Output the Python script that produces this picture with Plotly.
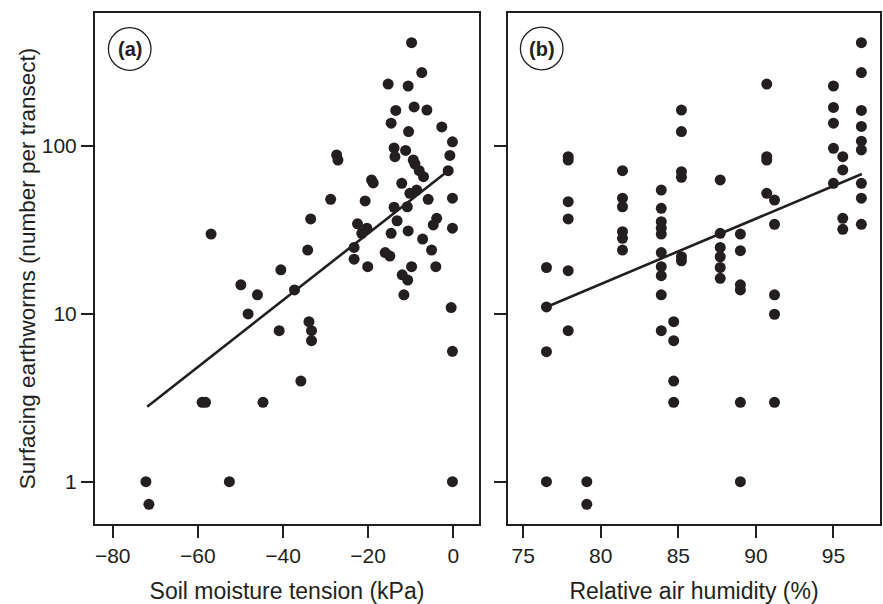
import plotly.graph_objects as go

# Panel (a): soil moisture tension (kPa) vs surfacing earthworms
a_x = [-9.8, -7.4, -15.3, -10.6, -13.5, -9.2, -6.2, -14.6, -10.5, -2.7, -0.2, -13.9, -11.2, -27.4, -27.1,
       -0.8, -13.7, -9.4, -9.0, -8.0, -7.0, -1.2, -19.2, -18.8, -12.1, -10.2, -8.6, -28.8, -20.7, -5.9,
       -0.2, -13.9, -10.8, -33.5, -13.2, -3.9, -4.7, -22.5, -20.3, -21.5, -0.2, -56.9, -14.6, -10.6, -7.2,
       -34.2, -23.3, -5.1, -16.0, -14.9, -23.3, -20.1, -9.8, -4.1, -40.5, -12.0, -10.7, -49.9, -37.3, -46.0,
       -11.6, -0.5, -48.2, -33.9, -40.9, -33.3, -33.3, -0.2, -35.8, -59.0, -58.2, -44.7, -72.2, -52.6, -0.2,
       -71.5]
a_y = [413, 274, 234, 228, 163, 171, 164, 137, 122, 130, 106, 97.4, 94.2, 88.5, 82.6,
       87.9, 86.5, 82.6, 78.2, 71.3, 65.7, 71.3, 62.8, 60.3, 60.0, 52.3, 54.7, 48.2, 47.1, 48.2,
       48.9, 43.2, 43.5, 36.8, 35.9, 37.1, 33.9, 34.4, 32.4, 30.2, 32.4, 29.9, 30.2, 31.2, 27.9,
       24.0, 24.9, 24.0, 23.2, 22.1, 21.2, 19.1, 19.1, 19.1, 18.3, 17.1, 15.9, 14.9, 13.9, 13.0,
       13.0, 10.9, 10.0, 8.99, 7.94, 7.94, 6.92, 5.98, 3.98, 2.97, 2.97, 2.97, 1, 1, 1,
       0.733]
a_fit_x = [-71.9, -1.2]
a_fit_y = [2.80, 71.3]

# Panel (b): relative air humidity (%) vs surfacing earthworms
b_x = [76.5, 76.5, 76.5, 76.5,
       77.9, 77.9, 77.9, 77.9, 77.9, 77.9,
       79.1, 79.1,
       81.4, 81.4, 81.4, 81.4, 81.4, 81.4,
       83.9, 83.9, 83.9, 83.9, 83.9, 83.9, 83.9, 83.9, 83.9, 83.9,
       84.7, 84.7, 84.7, 84.7,
       85.2, 85.2, 85.2, 85.2, 85.2, 85.2,
       87.7, 87.7, 87.7, 87.7, 87.7, 87.7,
       89.0, 89.0, 89.0, 89.0, 89.0, 89.0,
       90.7, 90.7, 90.7, 90.7,
       91.2, 91.2, 91.2, 91.2, 91.2,
       95.0, 95.0, 95.0, 95.0, 95.0,
       95.6, 95.6, 95.6, 95.6,
       96.8, 96.8, 96.8, 96.8, 96.8, 96.8, 96.8, 96.8, 96.8]
b_y = [18.9, 11.0, 5.95, 1,
       86.5, 82.6, 46.6, 36.8, 18.1, 7.94,
       1, 0.733,
       71.3, 48.9, 43.5, 30.9, 28.2, 24.0,
       54.7, 42.6, 35.4, 32.4, 29.9, 23.2, 19.1, 16.9, 13.0, 7.94,
       8.99, 6.92, 3.98, 2.97,
       164, 122, 70.4, 65.2, 21.9, 20.7,
       62.8, 30.2, 24.9, 21.9, 18.9, 16.3,
       29.9, 23.8, 14.9, 13.9, 2.97, 1,
       234, 86.5, 82.6, 52.3,
       47.7, 34.2, 13.0, 9.95, 2.97,
       228, 170, 137, 97.0, 60.0,
       86.5, 72.1, 37.1, 31.9,
       413, 274, 163, 131, 107, 94.8, 60.0, 48.9, 34.2]
b_fit_x = [76.54, 96.83]
b_fit_y = [11.04, 68.2]

x_a_ticks = [-80, -60, -40, -20, 0]
x_b_ticks = [75, 80, 85, 90, 95]
y_ticks = [1, 10, 100]
y_ticktext = ["1", "10", "100"]

INK = "#231f20"
FONT = "Liberation Sans, Arial, Helvetica, sans-serif"

fig = go.Figure()
mk = dict(color=INK, size=11, line=dict(width=0))
fig.add_trace(go.Scatter(x=a_x, y=a_y, mode="markers", marker=mk, xaxis="x", yaxis="y", showlegend=False))
fig.add_trace(go.Scatter(x=a_fit_x, y=a_fit_y, mode="lines", line=dict(color=INK, width=2.6),
                         xaxis="x", yaxis="y", showlegend=False))
fig.add_trace(go.Scatter(x=b_x, y=b_y, mode="markers", marker=mk, xaxis="x2", yaxis="y2", showlegend=False))
fig.add_trace(go.Scatter(x=b_fit_x, y=b_fit_y, mode="lines", line=dict(color=INK, width=2.6),
                         xaxis="x2", yaxis="y2", showlegend=False))

W, H = 883, 604
ML, MR, MT, MB = 95, 3, 13, 80
pw = W - ML - MR
ph = H - MT - MB

def px2paper_x(p):
    return (p - ML) / pw

def py2paper_y(p):
    return (H - MB - p) / ph

axis_common = dict(showline=True, linecolor=INK, linewidth=2, mirror=True, ticks="outside",
                   ticklen=12, tickwidth=1.5, tickcolor=INK, showgrid=False, zeroline=False,
                   automargin=False, tickfont=dict(family=FONT, size=21, color=INK))
title_font = dict(family=FONT, size=23, color=INK)

fig.update_layout(
    template="none",
    width=W, height=H,
    margin=dict(l=ML, r=MR, t=MT, b=MB, autoexpand=False),
    paper_bgcolor="white", plot_bgcolor="white",
    font=dict(family=FONT, color=INK),
    xaxis=dict(domain=[0, px2paper_x(479)], range=[-84.16, 6.04], tickvals=x_a_ticks,
               title=dict(text="Soil moisture tension (kPa)", font=title_font, standoff=18),
               **axis_common),
    xaxis2=dict(domain=[px2paper_x(508), 1], range=[74.02, 98.0], tickvals=x_b_ticks, anchor="y2",
                title=dict(text="Relative air humidity (%)", font=title_font, standoff=18),
                **axis_common),
    yaxis=dict(type="log", range=[-0.252, 2.793], tickvals=y_ticks, ticktext=y_ticktext,
               title=dict(text="Surfacing earthworms (number per transect)", font=dict(family=FONT, size=22.5, color=INK),
                          standoff=0),
               **axis_common),
    yaxis2=dict(type="log", range=[-0.252, 2.793], tickvals=y_ticks, showticklabels=False, anchor="x2",
                **axis_common),
)

for label, cx, cy in [("(a)", 129.7, 49), ("(b)", 541.7, 48.5)]:
    fig.add_shape(type="circle", xref="paper", yref="paper", xsizemode="pixel", ysizemode="pixel",
                  xanchor=px2paper_x(cx), yanchor=py2paper_y(cy), x0=-21.3, x1=21.3, y0=-21.3, y1=21.3,
                  line=dict(color=INK, width=1.3))
    fig.add_annotation(xref="paper", yref="paper", x=px2paper_x(cx), y=py2paper_y(cy), text="<b>" + label + "</b>",
                       showarrow=False, xanchor="center", yanchor="middle",
                       font=dict(family=FONT, size=20, color=INK))

fig.write_html("out.html", config={"displayModeBar": False},
               post_script="document.body.style.margin='0';document.body.style.overflow='hidden';")
